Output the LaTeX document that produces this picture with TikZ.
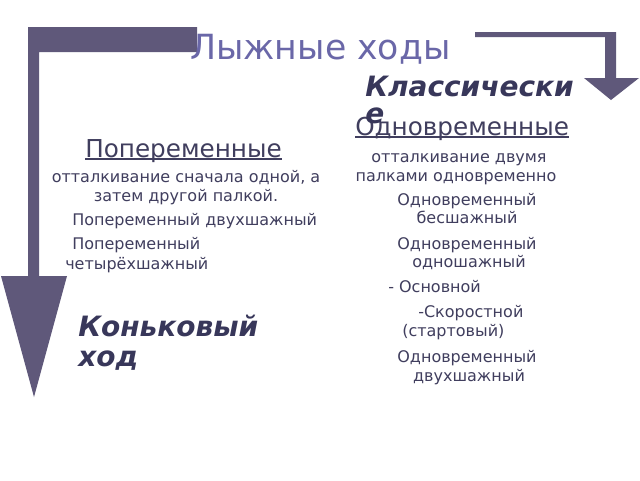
\documentclass[tikz,border=0pt]{standalone}
\usepackage{fontspec}
\setmainfont{DejaVu Sans}
\usepackage{tikz}

\definecolor{arrowc}{RGB}{95,88,122}
\definecolor{titlec}{RGB}{106,103,168}
\definecolor{textc}{RGB}{64,62,94}
\definecolor{boldc}{RGB}{56,55,90}

\tikzset{
  body/.style={font=\fontsize{12}{14}\selectfont, text=textc, inner sep=0pt, anchor=base},
  bodyw/.style={body, anchor=base west},
  head/.style={font=\fontsize{18.5}{21}\selectfont, text=textc, inner sep=0pt, anchor=base west},
  kind/.style={text=boldc, inner sep=0pt, anchor=base west, align=left},
  ul/.style={draw=textc, line width=0.9pt}
}

\begin{document}
\begin{tikzpicture}[x=0.75pt, y=-0.75pt]
  \useasboundingbox[fill=white] (0, 0) rectangle (640, 480);

  % big arrows
  \fill[arrowc] (28, 27) -- (197, 27) -- (197, 52) -- (39, 52) -- (39, 276) -- (67, 276)
    -- (34, 397) -- (1, 276) -- (28, 276) -- cycle;
  \fill[arrowc] (475, 32) -- (616, 32) -- (616, 78) -- (639, 78) -- (611, 100) -- (584, 78)
    -- (605, 78) -- (605, 37) -- (475, 37) -- cycle;

  % title
  \node[font=\fontsize{26}{30}\selectfont, text=titlec, inner sep=0pt, anchor=base west] at (190, 59) (title) {Лыжные ходы};

  % classic
  \node[head] at (355, 135) (odn) {Одновременные};
  \draw[ul] ([yshift=-1.5pt]odn.base west) -- ([yshift=-1.5pt]odn.base east);
  \node[kind, font=\fontsize{21}{20.25}\selectfont\bfseries\itshape] at (365, 123) (klass) {Классически\\е};

  \node[body] at (459, 162) (o1) {отталкивание двумя};
  \node[body] at (456, 181) (o2) {палками одновременно};
  \node[body] at (467, 205) (o3) {Одновременный};
  \node[body] at (467, 223) (o4) {бесшажный};
  \node[body] at (467, 249) (o5) {Одновременный};
  \node[body] at (469, 267) (o6) {одношажный};
  \node[bodyw] at (388, 292) (o7) {- Основной};
  \node[bodyw] at (418, 317) (o8) {-Скоростной};
  \node[bodyw] at (402, 336) (o9) {(стартовый)};
  \node[body] at (467, 362) (o10) {Одновременный};
  \node[body] at (469, 381) (o11) {двухшажный};

  % alternate
  \node[head] at (85, 157) (pop) {Попеременные\ };
  \draw[ul] ([yshift=-1.5pt]pop.base west) -- ([yshift=-1.5pt]pop.base east);

  \node[body] at (186, 182) (p1) {отталкивание сначала одной, а};
  \node[body] at (186, 201) (p2) {затем другой палкой.};
  \node[bodyw] at (72, 225) (p3) {Попеременный двухшажный};
  \node[bodyw] at (72, 249) (p4) {Попеременный};
  \node[bodyw] at (65, 269) (p5) {четырёхшажный};

  % skating
  \node[kind, font=\fontsize{21}{22.5}\selectfont\bfseries\itshape] at (78, 366) (kon) {Коньковый\\ход};
\end{tikzpicture}
\end{document}
